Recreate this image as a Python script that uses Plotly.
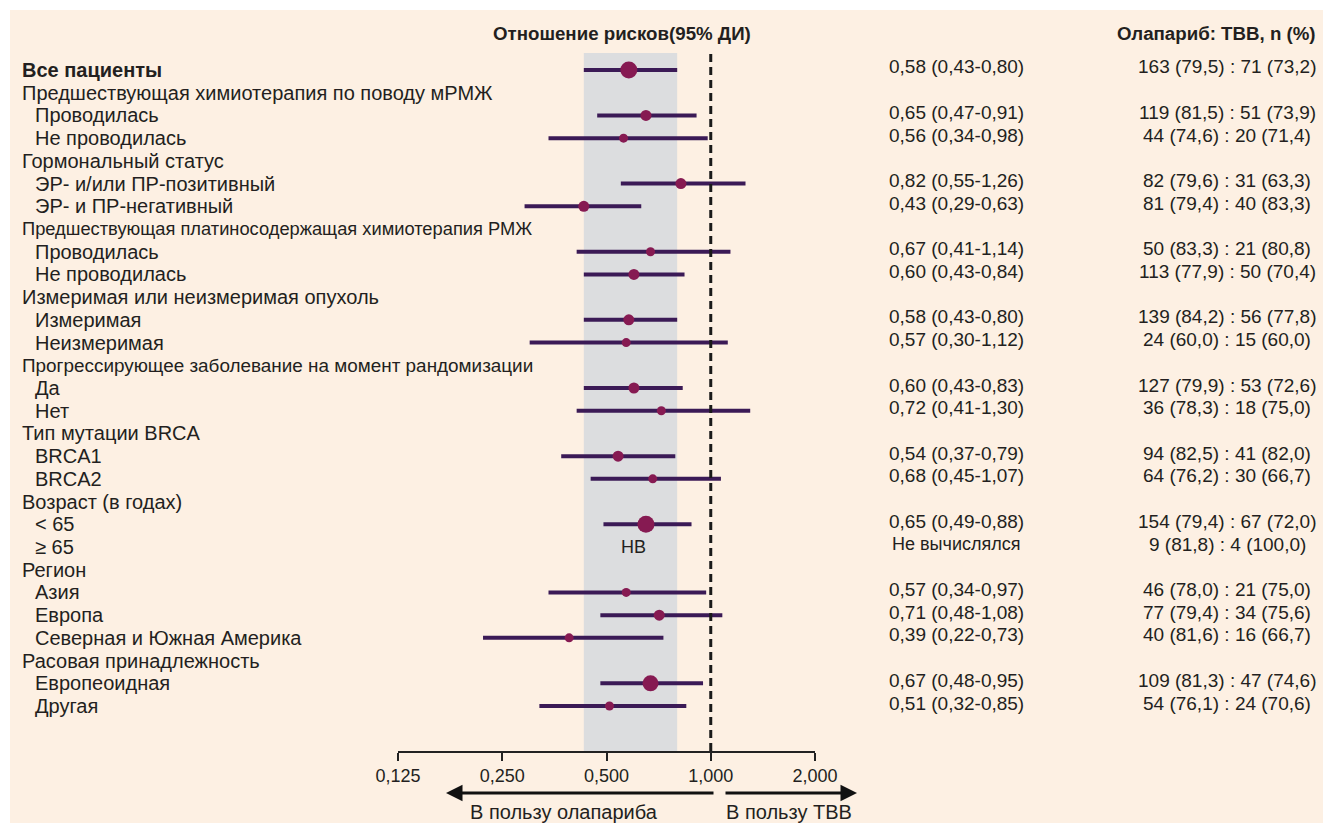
import plotly.graph_objects as go
import math

# ---------------- data ----------------
row_labels = [
    "Все пациенты",
    "Предшествующая химиотерапия по поводу мРМЖ",
    "Проводилась",
    "Не проводилась",
    "Гормональный статус",
    "ЭР- и/или ПР-позитивный",
    "ЭР- и ПР-негативный",
    "Предшествующая платиносодержащая химиотерапия РМЖ",
    "Проводилась",
    "Не проводилась",
    "Измеримая или неизмеримая опухоль",
    "Измеримая",
    "Неизмеримая",
    "Прогрессирующее заболевание на момент рандомизации",
    "Да",
    "Нет",
    "Тип мутации BRCA",
    "BRCA1",
    "BRCA2",
    "Возраст (в годах)",
    "< 65",
    "≥ 65",
    "Регион",
    "Азия",
    "Европа",
    "Северная и Южная Америка",
    "Расовая принадлежность",
    "Европеоидная",
    "Другая",
]
# 0 = overall (bold), 1 = group header, 2 = subgroup
row_level = [0, 1, 2, 2, 1, 2, 2, 1, 2, 2, 1, 2, 2, 1, 2, 2, 1, 2, 2, 1, 2, 2, 1, 2, 2, 2, 1, 2, 2]

hazard_ratio = [0.58, None, 0.65, 0.56, None, 0.82, 0.43, None, 0.67, 0.60, None, 0.58, 0.57, None,
                0.60, 0.72, None, 0.54, 0.68, None, 0.65, None, None, 0.57, 0.71, 0.39, None, 0.67, 0.51]
ci_low = [0.43, None, 0.47, 0.34, None, 0.55, 0.29, None, 0.41, 0.43, None, 0.43, 0.30, None,
          0.43, 0.41, None, 0.37, 0.45, None, 0.49, None, None, 0.34, 0.48, 0.22, None, 0.48, 0.32]
ci_high = [0.80, None, 0.91, 0.98, None, 1.26, 0.63, None, 1.14, 0.84, None, 0.80, 1.12, None,
           0.83, 1.30, None, 0.79, 1.07, None, 0.88, None, None, 0.97, 1.08, 0.73, None, 0.95, 0.85]

olaparib_n = [163, None, 119, 44, None, 82, 81, None, 50, 113, None, 139, 24, None,
              127, 36, None, 94, 64, None, 154, 9, None, 46, 77, 40, None, 109, 54]
olaparib_pct = [79.5, None, 81.5, 74.6, None, 79.6, 79.4, None, 83.3, 77.9, None, 84.2, 60.0, None,
                79.9, 78.3, None, 82.5, 76.2, None, 79.4, 81.8, None, 78.0, 79.4, 81.6, None, 81.3, 76.1]
tvv_n = [71, None, 51, 20, None, 31, 40, None, 21, 50, None, 56, 15, None,
         53, 18, None, 41, 30, None, 67, 4, None, 21, 34, 16, None, 47, 24]
tvv_pct = [73.2, None, 73.9, 71.4, None, 63.3, 83.3, None, 80.8, 70.4, None, 77.8, 60.0, None,
           72.6, 75.0, None, 82.0, 66.7, None, 72.0, 100.0, None, 75.0, 75.6, 66.7, None, 74.6, 70.6]

not_estimable_row = 21
no_effect_value = 1.0
axis_ticks = [0.125, 0.25, 0.5, 1.0, 2.0]
axis_ticktext = ["0,125", "0,250", "0,500", "1,000", "2,000"]

# ---------------- style ----------------
W, H = 1323, 825
FONT = "Liberation Sans, Arial, sans-serif"
TXT = "#231f20"
BG = "#fdf0e3"
BAND = "#dcdddf"
LINE_C = "#3b1a56"
MARK_C = "#861a52"
marker_px = {0: 17, 20: 17, 27: 16}
label_font_px = {7: 18.3, 13: 18.9}


def px_x(p):
    return p / W


def px_y(p):
    return 1 - p / H


ROW0, PITCH = 70.0, (706.0 - 70.0) / 28
Y_TOP_PX, Y_BOT_PX = 53.0, 751.0
X_LEFT_PX, X_RIGHT_PX = 398.0, 815.0
v_top = (Y_TOP_PX - ROW0) / PITCH
v_bot = (Y_BOT_PX - ROW0) / PITCH


def fmt(v, d=2):
    return f"{v:.{d}f}".replace(".", ",")


rows = list(range(len(row_labels)))
data_rows = [i for i in rows if hazard_ratio[i] is not None]

fig = go.Figure()

# overall CI band
fig.add_trace(go.Scatter(
    x=[ci_low[0], ci_high[0], ci_high[0], ci_low[0], ci_low[0]],
    y=[v_bot, v_bot, v_top, v_top, v_bot],
    mode="lines", fill="toself", fillcolor=BAND, line=dict(width=0, color=BAND),
    hoverinfo="skip", showlegend=False,
))

# estimates with CIs
fig.add_trace(go.Scatter(
    x=[hazard_ratio[i] for i in data_rows],
    y=data_rows,
    mode="markers",
    marker=dict(color=MARK_C, opacity=1,
                size=[marker_px.get(i, 11 if (olaparib_n[i] + tvv_n[i]) >= 100 else 9) for i in data_rows],
                line=dict(width=0)),
    error_x=dict(type="data", symmetric=False,
                 array=[ci_high[i] - hazard_ratio[i] for i in data_rows],
                 arrayminus=[hazard_ratio[i] - ci_low[i] for i in data_rows],
                 color=LINE_C, thickness=4, width=0),
    hoverinfo="skip",
    showlegend=False,
))

# line of no effect
fig.add_trace(go.Scatter(
    x=[no_effect_value, no_effect_value], y=[v_bot, v_top],
    mode="lines", line=dict(color="#1a1a1a", width=3, dash="8px,5px"),
    hoverinfo="skip", showlegend=False,
))

shapes = [
    dict(type="rect", xref="paper", yref="paper", x0=px_x(10), x1=1.0, y0=px_y(823), y1=px_y(10),
         fillcolor=BG, line=dict(width=0), layer="below"),
]

annotations = []
for i in rows:
    lvl = row_level[i]
    annotations.append(dict(
        x=px_x(20 if lvl < 2 else 33), xref="paper", y=i, yref="y",
        text=(f"<b>{row_labels[i]}</b>" if lvl == 0 else row_labels[i]),
        showarrow=False, xanchor="left", yanchor="middle",
        font=dict(family=FONT, size=label_font_px.get(i, 20), color=TXT)))
    if olaparib_n[i] is not None:
        if hazard_ratio[i] is not None:
            ci_txt = f"{fmt(hazard_ratio[i])} ({fmt(ci_low[i])}-{fmt(ci_high[i])})"
        else:
            ci_txt = "Не вычислялся"
        annotations.append(dict(
            x=px_x(956), xref="paper", y=i, yref="y", yshift=3, text=ci_txt,
            showarrow=False, xanchor="center", yanchor="middle",
            font=dict(family=FONT, size=19 if hazard_ratio[i] is not None else 18, color=TXT)))
        n_txt = (f"{olaparib_n[i]} ({fmt(olaparib_pct[i], 1)}) : "
                 f"{tvv_n[i]} ({fmt(tvv_pct[i], 1)})")
        annotations.append(dict(
            x=px_x(1227), xref="paper", y=i, yref="y", yshift=3, text=n_txt,
            showarrow=False, xanchor="center", yanchor="middle",
            font=dict(family=FONT, size=19, color=TXT)))

# НВ label under the age row
annotations.append(dict(x=px_x(633), xref="paper", y=not_estimable_row, yref="y", text="НВ",
                        showarrow=False, xanchor="center", yanchor="middle",
                        font=dict(family=FONT, size=18, color=TXT)))

# headers
annotations.append(dict(x=px_x(622), xref="paper", y=px_y(33), yref="paper",
                        text="<b>Отношение рисков(95% ДИ)</b>", showarrow=False,
                        xanchor="center", yanchor="middle",
                        font=dict(family=FONT, size=18.7, color=TXT)))
annotations.append(dict(x=px_x(1318), xref="paper", y=px_y(33), yref="paper",
                        text="<b>Олапариб: ТВВ, n (%)</b>", showarrow=False,
                        xanchor="right", yanchor="middle",
                        font=dict(family=FONT, size=18.7, color=TXT)))

# direction arrows
annotations.append(dict(x=px_x(446), xref="paper", y=px_y(793), yref="paper", text="",
                        showarrow=True, ax=269, ay=0, arrowhead=2, arrowsize=1.1,
                        arrowwidth=3, arrowcolor="#111", standoff=0, startstandoff=0))
annotations.append(dict(x=px_x(857), xref="paper", y=px_y(793), yref="paper", text="",
                        showarrow=True, ax=-133, ay=0, arrowhead=2, arrowsize=1.1,
                        arrowwidth=3, arrowcolor="#111", standoff=0, startstandoff=0))
annotations.append(dict(x=px_x(564), xref="paper", y=px_y(812), yref="paper",
                        text="В пользу олапариба", showarrow=False,
                        xanchor="center", yanchor="middle",
                        font=dict(family=FONT, size=20, color=TXT)))
annotations.append(dict(x=px_x(789), xref="paper", y=px_y(812), yref="paper",
                        text="В пользу ТВВ", showarrow=False,
                        xanchor="center", yanchor="middle",
                        font=dict(family=FONT, size=20, color=TXT)))

fig.update_layout(
    width=W, height=H, autosize=False,
    margin=dict(l=0, r=0, t=0, b=0, pad=0, autoexpand=False),
    paper_bgcolor="white",
    plot_bgcolor="rgba(0,0,0,0)",
    shapes=shapes,
    annotations=annotations,
    xaxis=dict(type="log", domain=[px_x(X_LEFT_PX), px_x(X_RIGHT_PX)],
               range=[math.log10(axis_ticks[0]), math.log10(axis_ticks[-1])],
               tickvals=axis_ticks, ticktext=axis_ticktext,
               ticks="outside", ticklen=8, tickwidth=1.5, tickcolor="#222",
               showline=True, linecolor="#222", linewidth=1.5,
               showgrid=False, zeroline=False, automargin=False,
               tickfont=dict(family=FONT, size=18, color=TXT)),
    yaxis=dict(domain=[px_y(Y_BOT_PX), px_y(Y_TOP_PX)], range=[v_bot, v_top],
               visible=False, showgrid=False, zeroline=False, automargin=False),
    font=dict(family=FONT, color=TXT),
)

fig.write_html(
    "out.html",
    config={"responsive": False, "displayModeBar": False},
    post_script="document.body.style.margin='0';document.body.style.overflow='hidden';",
)
